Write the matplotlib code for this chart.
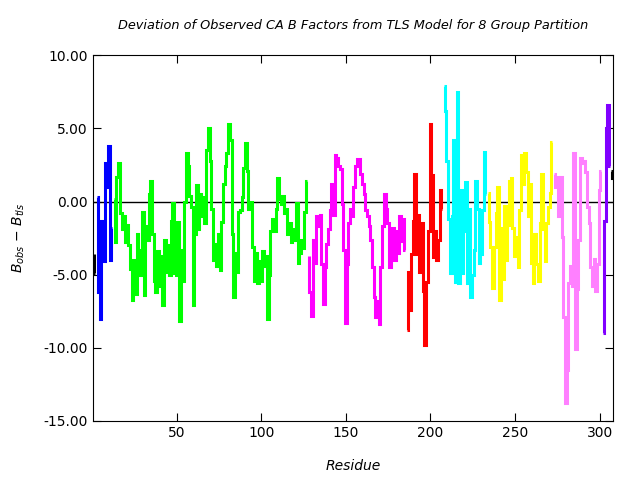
import numpy as np
import matplotlib
matplotlib.use("Agg")
import matplotlib.pyplot as plt

# B_obs - B_tls per residue, one list per TLS group
black_start = [-3.6, -4.9]
blue_vals = [0.3, -6.2, -8.0, -1.3, -4.1, 2.6, 1.0, 3.8, -4.0, -1.8]
green_vals = [
    0.2, -2.8, 1.7, 2.6, -0.8, -1.9, -1.0, -2.8, -1.6, -3.0, -4.6, -6.7,
    -4.0, -6.3, -2.2, -3.3, -5.0, -0.7, -6.4, -1.7, -2.6, 0.5, 1.4, -2.2, -5.4,
    -6.2, -3.4, -5.8, -3.7, -7.1, -2.6, -4.8, -3.0, -5.0, -1.3, -0.1, -4.9,
    -5.0, -1.4, -8.2, -3.3, -5.4, 0.0, 3.3, 2.4, 0.4, -0.4, -7.1, -2.2, 1.1,
    -1.9, 0.5, -1.0, 0.3, -1.5, 3.5, 5.0, 2.8, -0.5, -4.0, -2.9, -4.4, -2.2,
    -4.7, -1.4,
    1.2, 2.4, 3.3, 5.3, 4.2, -2.2, -6.5, -3.5, -4.8, -0.7, -0.6, 0.3, 2.3,
    4.0, 2.1, -0.5, 0.0, -3.1, -5.4, -3.5, -5.6, -4.1, -5.4, -3.4,
    -4.4, -3.7, -8.0, -5.0, -2.0, -1.2, -2.0, -0.5, 1.6, 0.2, -0.2, 0.4, -0.8,
    -0.5, -2.2, -1.5, -2.8, -1.9, -2.6, -0.1, -4.2, -3.5, -2.6, -3.2, -0.7, 1.4,
]
magenta_vals = [
    -3.7, -6.2, -7.8, -2.6, -4.2, -1.0, -1.7, -0.9, -4.3, -7.0, -4.5, -2.9,
    -1.9, -0.6, 1.2, -0.9, 3.2, 3.0, 2.4, 2.2, -0.2, -3.3, -8.3, -4.3, -1.5,
    -0.5, -1.0, 1.0,
    2.4, 2.9, 2.9, 1.9, 1.2, 0.5, -0.6, -1.0, -1.7, -2.6, -4.5, -6.5, -7.9,
    -6.8, -8.4, -4.5, -1.7, 0.5, -0.5, -1.5, -4.5, -2.2, -1.8, -4.0, -2.0, -3.5,
    -1.0, -2.7, -1.2, -3.3,
]
red_vals = [-8.8, -4.8, -7.4, -3.6, -1.3, 1.9, -3.6, -0.9, -4.8, -1.5, -6.1,
            -9.8, -5.5, -2.0, 5.3, 1.8, -3.8, -2.0, -4.0, -2.6, 0.8, -0.5]
cyan_vals = [7.9, 6.2, 2.8, -1.2, -4.9, -1.0, 4.2, -5.5, 7.5, -5.6, 0.8, -4.9,
             -2.0, 1.3, -5.6, -0.5, -6.5, -5.0, -3.3, 1.4, -0.5, -4.2, -3.6,
             -0.6, 3.4, 0.5]
yellow_vals = [0.6, -1.4, -3.1, -5.9, -3.1, -0.8, 1.0, -6.7, -1.8, -5.3, -0.3,
               -4.0, -1.6, 1.4, 1.6, -1.8, -3.7, -2.4, -4.5, -0.6, 3.2, 1.2,
               3.3, 2.0, -1.0, 1.2, -4.2, -5.6, -2.2, -4.3, -5.4, -1.5, 1.9,
               -1.9, -4.1, -1.5, -0.4, 0.6, 4.1]
violet_vals = [1.9, 1.0, 1.7, -1.0, 1.7, -2.4, -7.9, -13.8, -11.5, -5.6, -4.4,
               -5.8, 3.3, -10.1, -6.0, -2.6, 3.0, 2.6, 2.8, 2.0, -0.4, -1.5,
               -4.5, -5.8, -3.9, -6.1, -4.3, 0.8, 2.1]
purple_vals = [-9.0, -1.3, 5.0, 6.6, 2.4]
black_end = [2.1, 1.6]

groups = [
    (black_start, "#000000"),
    (blue_vals, "#0000ff"),
    (green_vals, "#00ff00"),
    (magenta_vals, "#ff00ff"),
    (red_vals, "#ff0000"),
    (cyan_vals, "#00ffff"),
    (yellow_vals, "#ffff00"),
    (violet_vals, "#ff80ff"),
    (purple_vals, "#8000ff"),
    (black_end, "#000000"),
]

fig = plt.figure(figsize=(6.4, 4.8), dpi=100)
ax = fig.add_axes([0.145, 0.123, 0.813, 0.762])

ax.axhline(0, color="black", linewidth=1.0, zorder=1)

start = 1
for vals, col in groups:
    res = np.arange(start, start + len(vals))
    ax.step(res, vals, where="mid", color=col, linewidth=2.2,
            solid_joinstyle="miter", solid_capstyle="butt", zorder=2)
    start += len(vals)

ax.set_xlim(0.5, 308)
ax.set_ylim(-15, 10)
ax.set_xticks([50, 100, 150, 200, 250, 300])
ax.set_yticks(np.arange(-15, 10.1, 5))
ax.yaxis.set_major_formatter(matplotlib.ticker.FormatStrFormatter("%.2f"))
ax.tick_params(direction="in", top=True, right=True, length=6, labelsize=10)

ax.set_title("Deviation of Observed CA B Factors from TLS Model for 8 Group Partition",
             fontsize=9.3, style="italic", pad=19)
ax.set_xlabel("Residue", fontsize=10, style="italic", labelpad=14)
ax.set_ylabel(r"$B_{obs}$ $-$ $B_{tls}$", fontsize=10, labelpad=12)

fig.savefig("out.png", dpi=100)
